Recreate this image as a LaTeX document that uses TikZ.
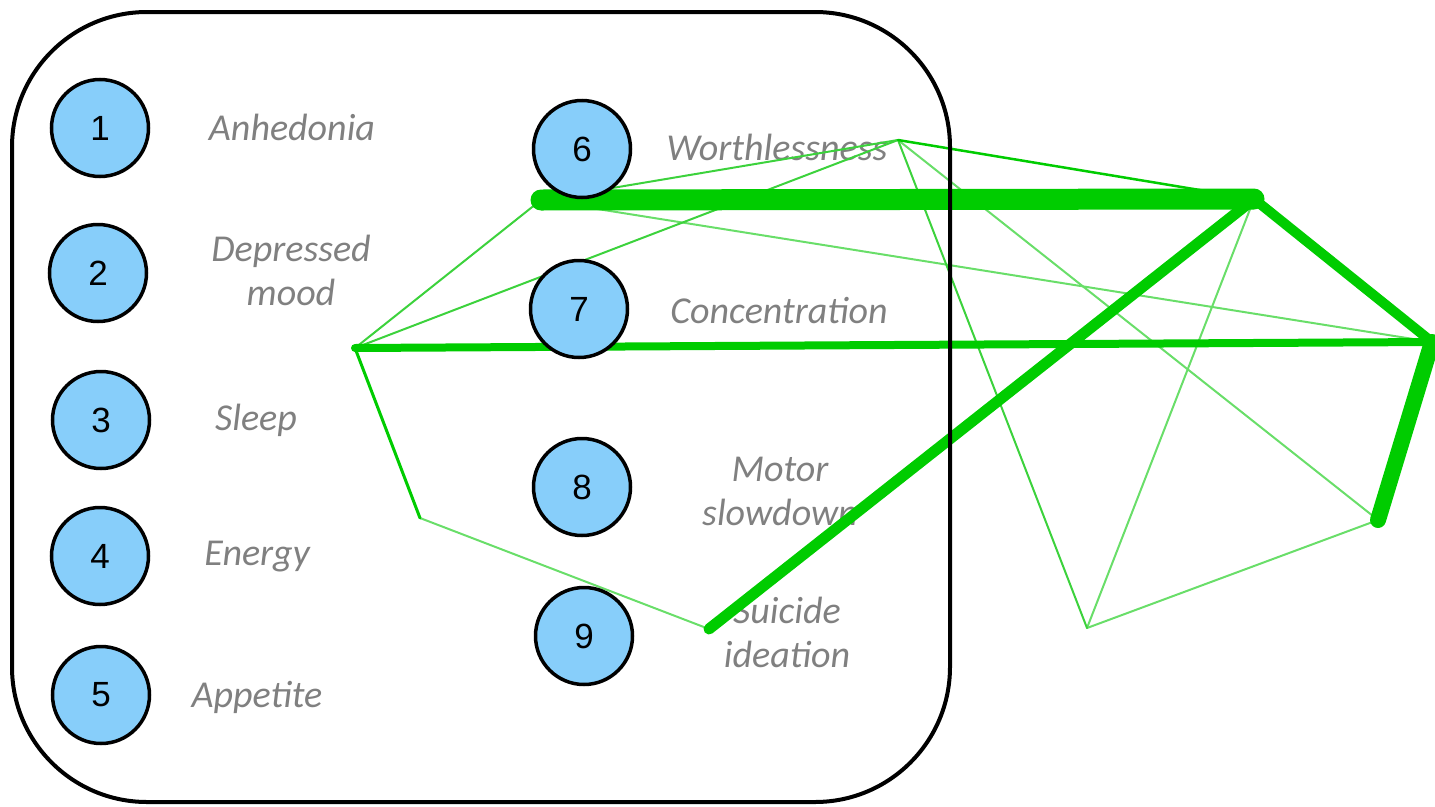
\documentclass[tikz,border=0pt]{standalone}
\usepackage{fontspec}
\setmainfont{Liberation Sans}
\newfontfamily\labelfont{Carlito}
\usetikzlibrary{calc}
\definecolor{symblue}{RGB}{135,206,250}
\definecolor{labgray}{RGB}{128,128,128}
\definecolor{edgegreen}{RGB}{0,204,0}
\definecolor{edgemid}{RGB}{60,210,60}
\definecolor{edgelight}{RGB}{105,222,105}
\tikzset{
  sym/.style={circle, draw=black, line width=3.5pt, fill=symblue, minimum size=97pt, inner sep=0pt, font=\fontsize{35}{35}\selectfont},
  lab/.style={font=\labelfont\itshape\fontsize{38}{44}\selectfont, text=labgray, align=center},
  edge/.style={line cap=round, line join=round},
}
\begin{document}
\begin{tikzpicture}[x=1pt, y=-1pt]
			%%%%% START %%%%%
			\useasboundingbox (0, 0) rectangle (1435, 806);
			
			% labels
			\node[lab] (anh) at (292, 127) {Anhedonia};
			\node[lab] (dep) at (291, 270) {Depressed\\mood};
			\node[lab] (slp) at (256, 420) {Sleep};
			\node[lab] (eng) at (257, 557) {Energy};
			\node[lab] (app) at (257, 697) {Appetite};
			\node[lab] (wor) at (777, 147) {Worthlessness};
			\node[lab] (con) at (779, 311) {Concentration};
			\node[lab] (mot) at (780, 491) {Motor\\slowdown};
			\node[lab] (sui) at (787, 632) {Suicide\\ideation};
			
			% network points
			\coordinate (pa) at (355, 348);
			\coordinate (pb) at (541, 200);
			\coordinate (pc) at (898, 140);
			\coordinate (pd) at (1254, 199);
			\coordinate (pe) at (1432, 342);
			\coordinate (pf) at (1378, 520);
			\coordinate (pg) at (1087, 628);
			\coordinate (ph) at (420, 518);
			\coordinate (pi) at (709, 629);
			
			% thin edges
			\draw[edge, line width=2pt, color=edgelight] (pb) -- (pe);
			\draw[edge, line width=2pt, color=edgelight] (pd) -- (pg);
			\draw[edge, line width=2pt, color=edgelight] (pf) -- (pg);
			\draw[edge, line width=2pt, color=edgelight] (ph) -- (pi);
			\draw[edge, line width=2pt, color=edgelight] (pc) -- (pf);
			\draw[edge, line width=2pt, color=edgemid] (pa) -- (pc);
			\draw[edge, line width=2pt, color=edgemid] (pb) -- (pc);
			\draw[edge, line width=2pt, color=edgemid] (pc) -- (pg);
			\draw[edge, line width=2pt, color=edgemid] (pa) -- (pb);
			\draw[edge, line width=2.5pt, color=edgegreen] (pc) -- (pd);
			\draw[edge, line width=3pt, color=edgegreen] (pa) -- (ph);
			
			% thick edges
			\draw[edge, line width=8pt, color=edgegreen] (pa) -- (pe);
			\draw[edge, line width=10pt, color=edgegreen] (pd) -- (pe);
			\draw[edge, line width=11pt, color=edgegreen] (pi) -- (pd);
			\draw[edge, line width=16pt, color=edgegreen] (pe) -- (pf);
			\draw[edge, line width=21pt, color=edgegreen] (pb) -- (pd);
			
			% frame
			\draw[line width=4pt, rounded corners=135pt] (12, 12) rectangle (950, 802);
			
			% symptoms
			\node[sym] (s1) at (100, 128) {1};
			\node[sym] (s2) at (98, 273) {2};
			\node[sym] (s3) at (101, 420) {3};
			\node[sym] (s4) at (100, 556) {4};
			\node[sym] (s5) at (101, 695) {5};
			\node[sym] (s6) at (582, 149) {6};
			\node[sym] (s7) at (579, 309) {7};
			\node[sym] (s8) at (582, 487) {8};
			\node[sym] (s9) at (584, 636) {9};
			
			%%%%% END %%%%%
\end{tikzpicture}
\end{document}
